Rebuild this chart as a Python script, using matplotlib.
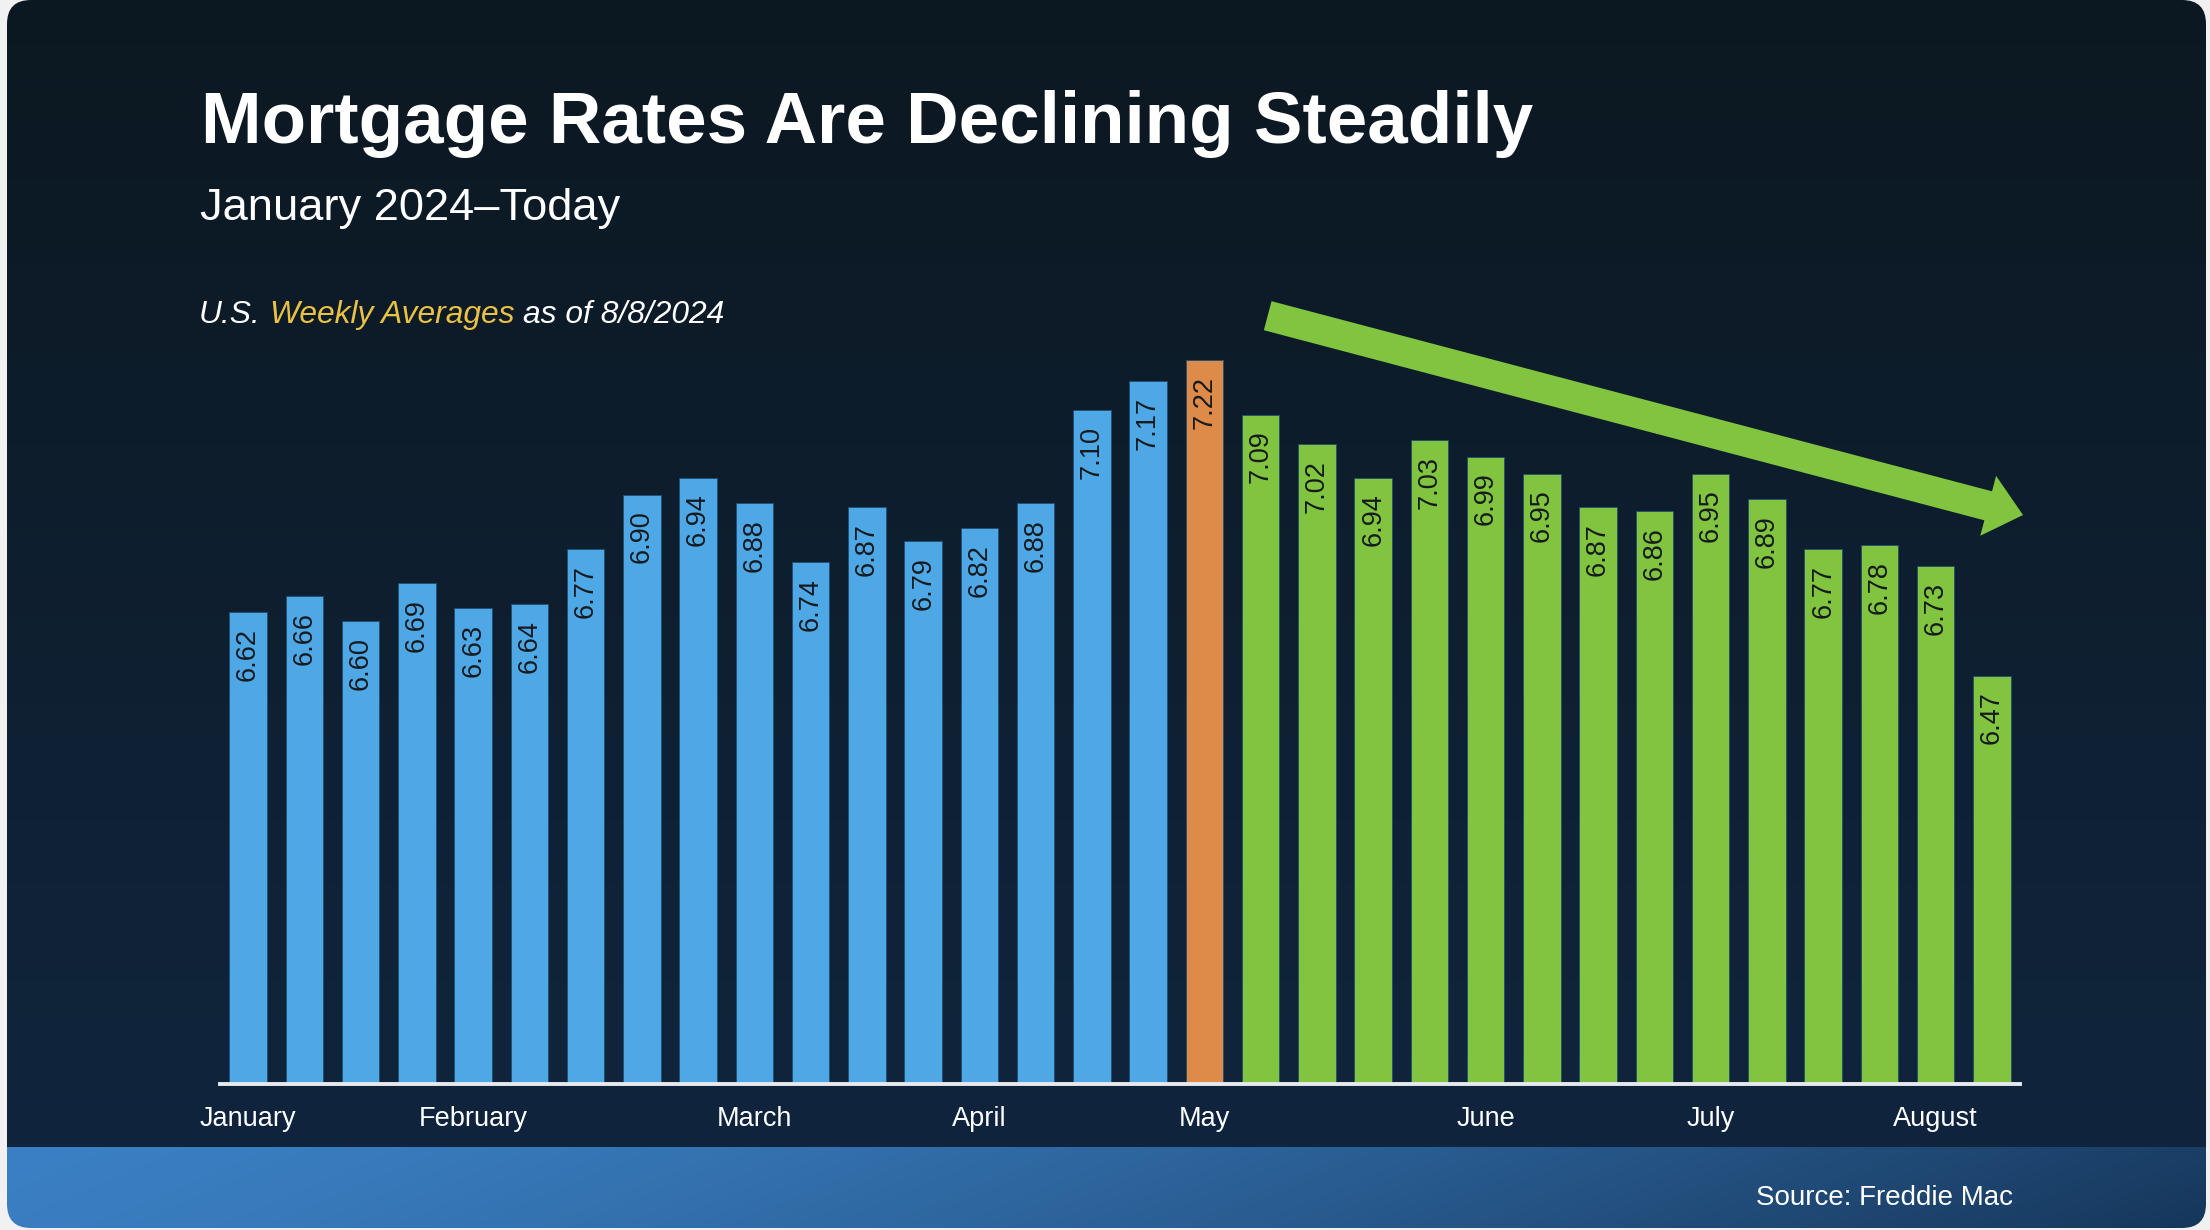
import numpy as np
import matplotlib.pyplot as plt
from matplotlib.patches import FancyBboxPatch, FancyArrow

plt.rcParams['font.family'] = ['Liberation Sans', 'DejaVu Sans']

# === data ===
rates_before = [6.62, 6.66, 6.60, 6.69, 6.63, 6.64, 6.77, 6.90, 6.94, 6.88,
                6.74, 6.87, 6.79, 6.82, 6.88, 7.10, 7.17]
rate_peak = [7.22]
rates_after = [7.09, 7.02, 6.94, 7.03, 6.99, 6.95, 6.87, 6.86, 6.95, 6.89,
               6.77, 6.78, 6.73, 6.47]
months = ['January', 'February', 'March', 'April', 'May', 'June', 'July', 'August']
month_week = [0, 4, 9, 13, 17, 22, 26, 30]

rates = rates_before + rate_peak + rates_after
colors = (['#4ea8e6'] * len(rates_before) + ['#de8a48'] * len(rate_peak)
          + ['#80c43f'] * len(rates_after))
x = np.arange(len(rates))

W, H = 2210, 1230
fig = plt.figure(figsize=(W / 100, H / 100), dpi=100, facecolor='#f1f1f1')

# === background card ===
bg = fig.add_axes([0, 0, 1, 1])
bg.set_xlim(0, W)
bg.set_ylim(H, 0)
bg.axis('off')
card = FancyBboxPatch((7, 0), 2199, 1228, boxstyle='round,pad=0,rounding_size=24',
                      fc='none', ec='none')
bg.add_patch(card)

top = np.array([0x0c, 0x18, 0x21]) / 255
bot = np.array([0x10, 0x25, 0x3d]) / 255
t = np.linspace(0, 1, 256)[:, None, None]
grad = top * (1 - t) + bot * t
im = bg.imshow(grad, extent=(0, W, 1147, 0), aspect='auto', zorder=0)
im.set_clip_path(card)

left = np.array([0x3b, 0x80, 0xc4]) / 255
right = np.array([0x16, 0x36, 0x5a]) / 255
u = np.linspace(0, 1, 400)[None, :, None]
v = np.linspace(0, 1, 40)[:, None, None]
s = np.clip(u * 0.92 + v * 0.08, 0, 1) ** 1.4
fgrad = left * (1 - s) + right * s
im2 = bg.imshow(fgrad, extent=(0, W, H, 1147), aspect='auto', zorder=0)
im2.set_clip_path(card)
bg.set_xlim(0, W)
bg.set_ylim(H, 0)

# === bars ===
ax = fig.add_axes([220 / W, 146 / H, 1800 / W, 842 / H])
ax.patch.set_alpha(0)
ax.bar(x, rates, width=0.667, color=colors, edgecolor='#1f4f73', linewidth=0.6)
ax.set_xlim(-0.5, len(rates) - 0.5)
ax.set_ylim(5.5, 7.5)
for sp in ['top', 'left', 'right']:
    ax.spines[sp].set_visible(False)
ax.spines['bottom'].set_color('#e6eaef')
ax.spines['bottom'].set_linewidth(2.8)
ax.set_yticks([])
ax.set_xticks(month_week, months)
ax.tick_params(axis='x', length=0, pad=15.5, labelsize=19.5, labelcolor='white')

for xi, r in zip(x, rates):
    ax.annotate(f'{r:.2f}', (xi, r), xytext=(0, -11.5), textcoords='offset points',
                rotation=90, ha='center', va='top', fontsize=19.5, color='#161a1e')

# === arrow ===
arrow = FancyArrow(12.677, 9.143, 7.553, -1.993, width=0.30, head_width=0.62,
                   head_length=0.36, length_includes_head=True,
                   color='#80c43f', ec='none', transform=fig.dpi_scale_trans)
fig.add_artist(arrow)

# === text ===
fig.text(201 / W, 1 - 143 / H, 'Mortgage Rates Are Declining Steadily',
         fontsize=52.4, fontweight='bold', color='white', va='baseline', ha='left')
fig.text(200 / W, 1 - 220 / H, 'January 2024\u2013Today',
         fontsize=32.6, color='white', va='baseline', ha='left')

renderer = fig.canvas.get_renderer()


def text_w(s):
    tt = fig.text(0, 0, s, fontsize=22.9, style='italic')
    w = tt.get_window_extent(renderer).width
    tt.remove()
    return w


x0 = 199
yb = 1 - 323 / H
kw = dict(fontsize=22.9, style='italic', va='baseline', ha='left')
fig.text(x0 / W, yb, 'U.S.', color='white', **kw)
x1 = x0 + text_w('U.S. Weekly') - text_w('Weekly')
fig.text(x1 / W, yb, 'Weekly Averages', color='#e9c143', **kw)
x2 = x0 + text_w('U.S. Weekly Averages as') - text_w('as')
fig.text(x2 / W, yb, 'as of 8/8/2024', color='white', **kw)

fig.text(2013 / W, 1 - 1205 / H, 'Source: Freddie Mac', fontsize=20,
         color='white', ha='right', va='baseline')

fig.savefig('out.png', dpi=100, facecolor=fig.get_facecolor())
